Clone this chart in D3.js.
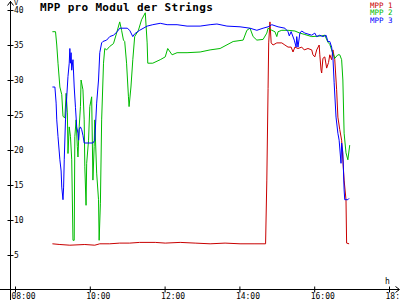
<!DOCTYPE html>
<html>
<head>
<meta charset="utf-8">
<script src="https://cdn.jsdelivr.net/npm/d3@7"></script>
<style>
body { margin: 0; background: #fff; }
svg { display: block; }
text { font-family: "DejaVu Sans Mono", monospace; }
</style>
</head>
<body>
<div id="chart"></div>
<script>
// series data (time of day, volts)
var redTimes = ['09:00','09:12','09:28','09:52','10:08','10:16','10:32','10:48','11:04','11:20','11:45','12:01','12:25','12:49','13:13','13:37','14:01','14:25','14:42','14:44','14:46','14:47','14:49','14:51','14:54','15:00','15:08','15:13','15:18','15:23','15:26','15:29','15:34','15:40','15:44','15:50','15:56','15:58','16:01','16:04','16:08','16:09','16:11','16:12','16:14','16:17','16:20','16:23','16:25','16:28','16:30','16:33','16:36','16:38','16:41','16:44','16:48','16:51','16:52','16:56'];
var redValues = [6.6,6.5,6.4,6.5,6.4,6.6,6.6,6.7,6.7,6.8,6.8,6.7,6.8,6.7,6.6,6.7,6.6,6.6,6.6,15.7,28.8,35.3,38.3,35.3,35,35.3,35.3,35,34.7,34.7,34,34.7,34.5,34.7,34.3,34.5,34.3,33.6,33.3,34.3,35,33.6,31.4,31,33.1,33.3,31.7,32.5,33.6,32.9,34.3,32.9,28.6,24.7,22.9,21.4,15.7,12.9,6.7,6.6];

var greenTimes = ['09:00','09:05','09:07','09:09','09:12','09:15','09:17','09:20','09:22','09:24','09:25','09:27','09:29','09:31','09:33','09:35','09:36','09:38','09:40','09:41','09:43','09:45','09:46','09:49','09:51','09:52','09:54','09:55','09:58','10:00','10:03','10:05','10:07','10:08','10:11','10:14','10:15','10:17','10:19','10:22','10:24','10:27','10:32','10:38','10:43','10:48','10:51','10:54','10:56','10:59','11:02','11:03','11:06','11:09','11:12','11:18','11:23','11:29','11:32','11:33','11:41','11:53','12:01','12:05','12:12','12:20','12:36','12:57','13:13','13:29','13:50','14:06','14:12','14:17','14:22','14:28','14:38','14:44','14:46','14:52','14:57','15:00','15:02','15:08','15:18','15:29','15:37','15:45','15:56','16:12','16:17','16:22','16:25','16:28','16:33','16:38','16:41','16:44','16:46','16:48','16:51','16:54','16:57'];
var greenValues = [36.9,36.9,35,32.4,29,27.9,24.8,24.6,28.1,25.3,19.5,23.3,21.9,18.6,7.1,7.1,21.9,24.3,20.5,19,23.3,26.2,30,28.6,24.3,17.6,12.1,18.1,21.4,26.2,27.6,15.7,20.5,24.3,16.7,12.9,7.1,12.4,24.3,32.4,34.5,34.3,34.8,35.2,36.7,38.3,37.1,35.7,35.5,32.4,27.6,26.2,29,32.9,36.2,37.1,38.6,39.6,35.3,32.4,32.4,32.9,33.3,34.5,33.6,33.9,33.9,34,34.3,34.5,35.5,35.7,37.1,37.4,36.2,35.7,35.8,36.7,37.4,37.1,36.9,36.2,36.9,37.1,37.1,37,36.7,36.5,36.2,36.3,36.4,35.4,35.1,34.3,33.1,33.6,33.6,32.9,30,22.4,19.6,18.6,20.7];

var blueTimes = ['09:00','09:04','09:06','09:07','09:09','09:12','09:14','09:15','09:17','09:18','09:19','09:21','09:23','09:25','09:27','09:28','09:29','09:30','09:31','09:33','09:34','09:35','09:37','09:39','09:41','09:42','09:43','09:45','09:47','09:49','09:51','10:00','10:05','10:08','10:11','10:14','10:16','10:19','10:21','10:27','10:32','10:38','10:44','10:48','11:00','11:04','11:09','11:12','11:20','11:32','11:41','11:53','12:04','12:20','12:36','12:57','13:13','13:24','13:40','14:01','14:17','14:28','14:38','14:46','14:52','15:02','15:13','15:18','15:20','15:23','15:28','15:31','15:32','15:34','15:37','15:40','15:45','15:56','16:01','16:04','16:09','16:14','16:19','16:22','16:25','16:28','16:30','16:32','16:35','16:38','16:40','16:43','16:44','16:46','16:48','16:49','16:54','16:56'];
var blueValues = [29,29,26.7,24.3,21.9,18.6,17,14.7,12.9,14.7,18.6,24.3,27.6,30.5,32.4,34.5,32.4,33.9,31.4,32.9,31,29,26.1,23.3,22.4,21.4,22.9,23.3,22.9,22.1,21,21,21,21.4,26.7,30,33.9,35.3,35.5,35.7,36.2,36.4,36.9,37.4,37.4,37.1,36.2,36.6,37.1,37.7,37.9,38.1,37.9,37.9,37.7,37.7,37.9,38,37.7,37.6,37.4,37.1,37.4,37.6,37.9,37.6,37.4,36.9,36.3,36.9,35.7,34.7,36.2,34.7,36.7,37,36.7,36.4,36.7,36.2,36.4,36.2,36.4,35.5,35.5,34.7,33.3,29.6,24.7,22.4,21.4,18.1,21,19.6,14.3,12.9,12.9,13.1];

var seriesNames = ['MPP 1', 'MPP 2', 'MPP 3'];
var seriesColors = ['#c80000', '#00bb00', '#0000ff'];
var yTicks = [5, 10, 15, 20, 25, 30, 35, 40];
var xTicks = ['08:00', '10:00', '12:00', '14:00', '16:00', '18:00'];
var title = 'MPP pro Modul der Strings';

var width = 400, height = 300;
var parse = d3.timeParse('%H:%M');

var svg = d3.select('#chart').append('svg')
	.attr('width', width)
	.attr('height', height)

var xScale = d3.scaleTime()
	.domain([parse('08:00'), parse('18:00')])
	.range([15, 389])

var yScale = d3.scaleLinear()
	.domain([0, 40])
	.range([290, 10])

// axes lines with arrows
var axisG = svg.append('g').attr('stroke', '#000').attr('fill', 'none')
axisG.append('line').attr('x1', 10.5).attr('x2', 10.5).attr('y1', 1).attr('y2', 300)
axisG.append('path').attr('d', 'M7.5,5.5 L10.5,1.5 L13.5,5.5')
axisG.append('line').attr('x1', 0).attr('x2', 399).attr('y1', 289.5).attr('y2', 289.5)
axisG.append('path').attr('d', 'M395.5,286.5 L399.5,289.5 L395.5,292.5')

// y axis
var yAxis = d3.axisLeft(yScale)
	.tickValues(yTicks)
	.tickSize(0)
	.tickFormat(d3.format('d'))
var yGuide = svg.append('g').attr('transform', 'translate(10.5,0)')
yAxis(yGuide)
yGuide.select('.domain').remove()
yGuide.selectAll('.tick line').attr('x1', -3).attr('x2', 3).attr('stroke', '#000')
yGuide.selectAll('.tick text')
	.attr('x', 3.5)
	.attr('dy', '0.35em')
	.attr('text-anchor', 'start')
	.attr('font-size', 8)
	.attr('font-family', 'DejaVu Sans Mono')
	.attr('fill', '#000')

// x axis
var xAxis = d3.axisBottom(xScale)
	.tickValues(xTicks.map(parse))
	.tickSize(0)
	.tickFormat(d3.timeFormat('%H:%M'))
var xGuide = svg.append('g').attr('transform', 'translate(0,289.5)')
xAxis(xGuide)
xGuide.select('.domain').remove()
xGuide.selectAll('.tick line').attr('y1', -3).attr('y2', 3).attr('stroke', '#000')
xGuide.selectAll('.tick text')
	.attr('x', -4)
	.attr('y', 9.5)
	.attr('dy', 0)
	.attr('text-anchor', 'start')
	.attr('font-size', 8)
	.attr('font-family', 'DejaVu Sans Mono')
	.attr('fill', '#000')

// unit labels
svg.append('text').attr('x', 14).attr('y', 5).attr('font-size', 7).text('V')
svg.append('text').attr('x', 385).attr('y', 284).attr('font-size', 8).text('h')

// series
var series = [
	{times: redTimes, values: redValues},
	{times: greenTimes, values: greenValues},
	{times: blueTimes, values: blueValues}
]

var line = d3.line()
	.x(function(d) { return xScale(d.t) })
	.y(function(d) { return yScale(d.v) })

series.forEach(function(s, i) {
	var pts = s.times.map(function(t, j) { return {t: parse(t), v: s.values[j]} })
	svg.append('path')
		.datum(pts)
		.attr('fill', 'none')
		.attr('stroke', seriesColors[i])
		.attr('stroke-width', 1)
		.attr('d', line)
})

// title
svg.append('text')
	.attr('x', 40)
	.attr('y', 11)
	.attr('font-size', 11)
	.attr('font-weight', 'bold')
	.attr('letter-spacing', 0.3)
	.text(title)

// legend
svg.selectAll('.legend')
	.data(seriesNames)
	.enter().append('text')
		.attr('x', 370)
		.attr('y', function(d, i) { return 7.5 + i * 7.5 })
		.attr('font-size', 7.5)
		.attr('fill', function(d, i) { return seriesColors[i] })
		.text(function(d) { return d })
</script>
</body>
</html>
